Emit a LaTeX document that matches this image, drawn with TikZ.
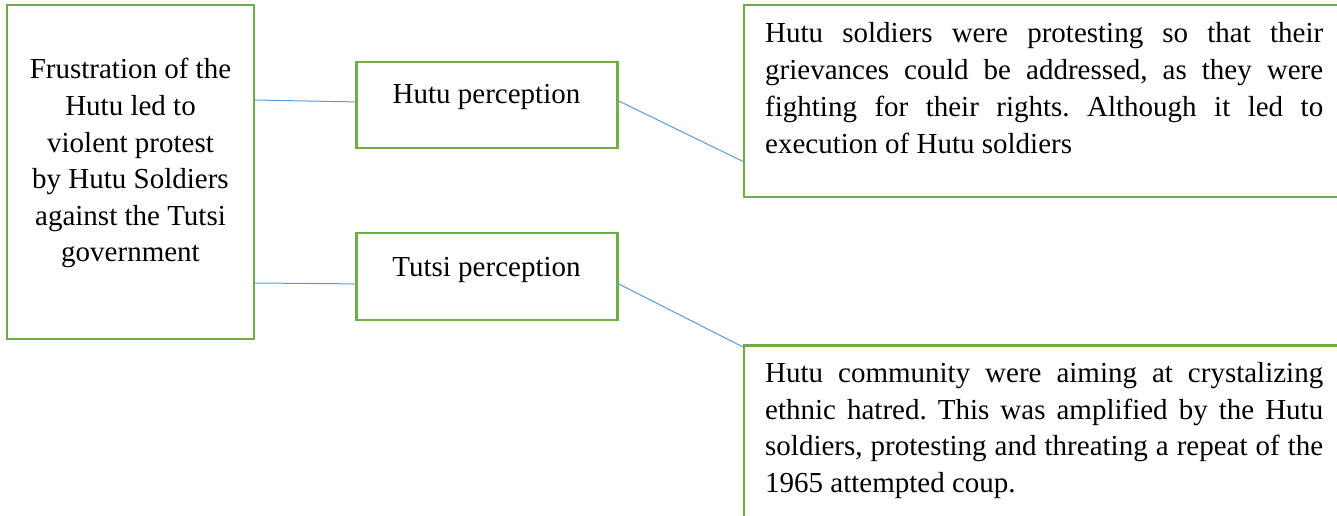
\documentclass[tikz,border=0pt]{standalone}
\usepackage{fontspec}
\setmainfont{Liberation Serif}
\usetikzlibrary{calc}
\definecolor{boxgreen}{RGB}{112,173,71}
\definecolor{linkblue}{RGB}{91,155,213}
\tikzset{
  gbox/.style={draw=boxgreen, line width=2.2pt, fill=none, inner sep=0pt},
  txt/.style={inner sep=0pt, anchor=base, font=\fontsize{29}{36.5}\selectfont\frenchspacing},
  link/.style={draw=linkblue, line width=1pt}
}
\begin{document}
\begin{tikzpicture}[x=1pt, y=-1pt]
\useasboundingbox (0,0) rectangle (1337,516);
\clip (0,0) rectangle (1337,516);
% boxes
\draw[gbox] (7,5) rectangle (254,339);
\coordinate (Lne) at (254,5);
\node[gbox, minimum width=261pt, minimum height=86pt] (H) at (487,105) {};
\node[gbox, minimum width=261pt, minimum height=87pt] (T) at (487,276.5) {};
\draw[gbox] (744,5) rectangle (1345,197);
\coordinate (TRw) at (744,5);
\draw[gbox] (1345,345.5) -- (744,345.5) -- (744,530);
\coordinate (BRw) at (744,345.5);
% texts
\node[txt] (Ltxt) at (130.5,79) {\parbox[t]{245pt}{\centering\fontsize{29}{36.6}\selectfont
Frustration of the\\ Hutu led to\\ violent protest\\ by Hutu Soldiers\\ against the Tutsi\\ government}};
\node[txt] (Htxt) at (486.5,104) {Hutu perception};
\node[txt] (Ttxt) at (486.5,276) {Tutsi perception};
\node[txt, anchor=base west] (TRtxt) at (765,43) {\parbox[t]{558pt}{\fontsize{29}{36.7}\selectfont\frenchspacing
\makebox[558pt][s]{Hutu soldiers were protesting so that their}\\
\makebox[558pt][s]{grievances could be addressed, as they were}\\
\makebox[558pt][s]{fighting for their rights. Although it led to}\\
execution of Hutu soldiers}};
\node[txt, anchor=base west] (BRtxt) at (765,382.5) {\parbox[t]{558pt}{\fontsize{29}{36.5}\selectfont\frenchspacing
\makebox[558pt][s]{Hutu community were aiming at crystalizing}\\
\makebox[558pt][s]{ethnic hatred. This was amplified by the Hutu}\\
\makebox[558pt][s]{soldiers, protesting and threating a repeat of the}\\
1965 attempted coup.}};
% connectors
\draw[link] ($(Lne)+(0,95)$) -- ($(H.north west)+(0,41)$);
\draw[link] ($(Lne)+(0,278)$) -- ($(T.north west)+(0,52)$);
\draw[link] ($(H.north east)+(0,40)$) -- ($(TRw)+(0,157)$);
\draw[link] ($(T.north east)+(0,52)$) -- ($(BRw)+(0,2)$);
\end{tikzpicture}
\end{document}
